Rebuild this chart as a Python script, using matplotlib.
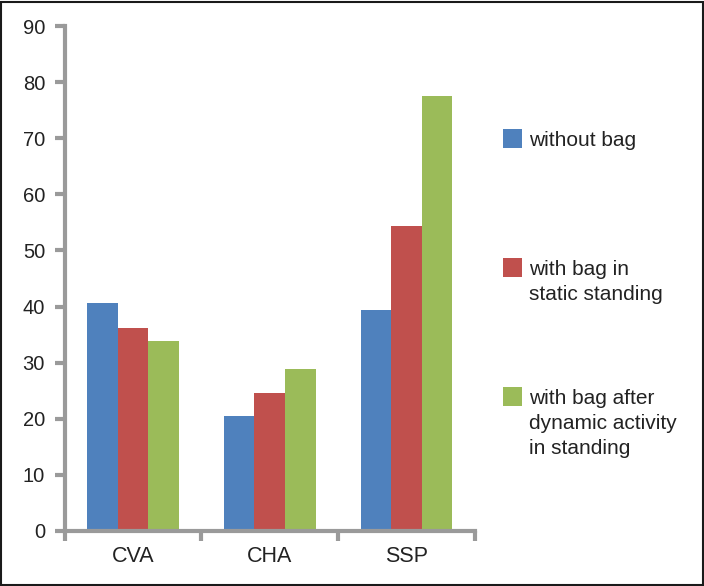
import matplotlib.pyplot as plt
import matplotlib.patches as mpatches
import numpy as np

plt.rcParams['font.family'] = ['Liberation Sans', 'DejaVu Sans']

# data
categories = ['CVA', 'CHA', 'SSP']
without_bag = [40.6, 20.5, 39.3]
static_standing = [36.2, 24.6, 54.3]
after_dynamic = [33.9, 28.9, 77.5]
series_names = ['without bag', 'with bag in\nstatic standing',
                'with bag after\ndynamic activity\nin standing']
colors = ['#4F81BD', '#C0504D', '#9BBB59']
yticks = np.arange(0, 91, 10)

axis_col = '#9A9A9A'
text_col = '#222222'

fig = plt.figure(figsize=(7.04, 5.86), dpi=100)
ax = fig.add_axes([64.5 / 704, 55 / 586, 410.5 / 704, 505 / 586])

x = np.arange(len(categories))
w = 0.223
for i, vals in enumerate([without_bag, static_standing, after_dynamic]):
    ax.bar(x + (i - 1) * w, vals, width=w, color=colors[i], linewidth=0)

ax.set_xlim(-0.5, len(categories) - 0.5)
ax.set_ylim(0, 90)
ax.set_yticks(yticks)

# ticks between groups, labels under group centres
ax.set_xticks(np.arange(-0.5, len(categories), 1.0))
ax.set_xticklabels([])
ax.set_xticks(x, minor=True)
ax.set_xticklabels(categories, minor=True)
ax.tick_params(axis='x', which='minor', length=0, pad=10.5, labelsize=15.5, labelcolor=text_col)
ax.tick_params(axis='x', which='major', length=7.5, width=3, color=axis_col, direction='out')
ax.tick_params(axis='y', length=7.5, width=3, color=axis_col, direction='out', pad=6.5,
               labelsize=14.5, labelcolor=text_col)

for s in ['top', 'right']:
    ax.spines[s].set_visible(False)
for s in ['left', 'bottom']:
    ax.spines[s].set_color(axis_col)
    ax.spines[s].set_linewidth(3)

# legend drawn by hand, first line of each entry next to the square
leg_y = [138.5, 267.5, 396.3]
for name, c, yy in zip(series_names, colors, leg_y):
    fy = 1 - yy / 586
    sq = 19.6
    fig.add_artist(mpatches.Rectangle((502.7 / 704, fy - sq / 2 / 586), sq / 704, sq / 586,
                                      transform=fig.transFigure, color=c, lw=0))
    fig.text(529.3 / 704, 1 - (yy - 7.5) / 586, name, ha='left', va='top',
             fontsize=15, color=text_col, linespacing=1.42)

# outer frame
fig.add_artist(mpatches.Rectangle((0.5 / 704, 1.5 / 586), 702.5 / 704, 583 / 586,
                                  transform=fig.transFigure, fill=False,
                                  edgecolor='#1a1a1a', lw=1.5))

fig.savefig('out.png', dpi=100)
